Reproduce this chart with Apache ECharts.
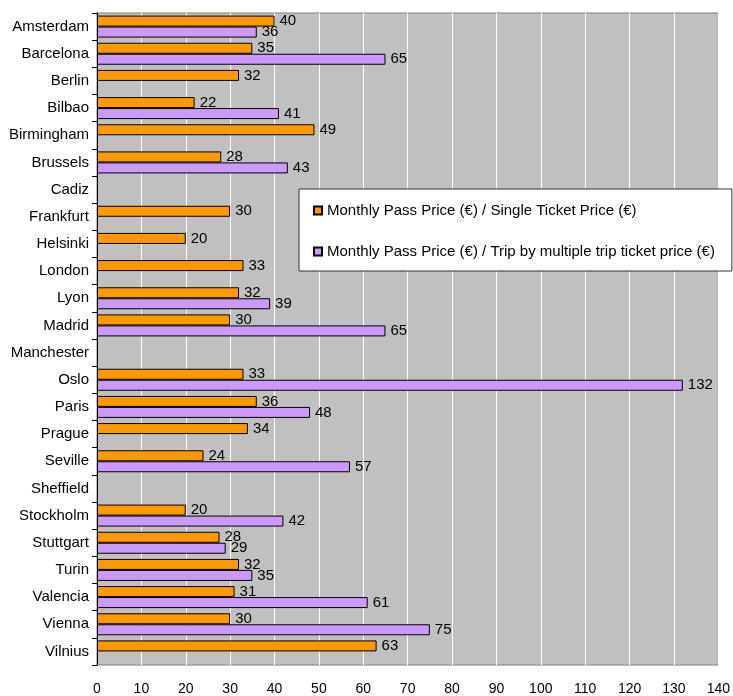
<!DOCTYPE html>
<html><head><meta charset="utf-8">
<script src="https://cdn.jsdelivr.net/npm/echarts@6/dist/echarts.min.js"></script>
<style>html,body{margin:0;padding:0;background:#fff}#c{width:733px;height:696px}</style>
</head><body><div id="c"></div>
<script>
const cities = ["Amsterdam","Barcelona","Berlin","Bilbao","Birmingham","Brussels","Cadiz","Frankfurt","Helsinki","London","Lyon","Madrid","Manchester","Oslo","Paris","Prague","Seville","Sheffield","Stockholm","Stuttgart","Turin","Valencia","Vienna","Vilnius"];
const singleTicket = [40,35,32,22,49,28,null,30,20,33,32,30,null,33,36,34,24,null,20,27.6,32,31,30,63];
const multiTrip = [36,65,null,41,null,43,null,null,null,null,39,65,null,132,48,null,57,null,42,29,35,61,75,null];
const xTicks = {min:0, max:140, interval:10};
const seriesNames = ["Monthly Pass Price (€) / Single Ticket Price (€)","Monthly Pass Price (€) / Trip by multiple trip ticket price (€)"];

const FONT = "Liberation Sans";
const chart = echarts.init(document.getElementById('c'));
const lbl = {show:true, position:'right', distance:5, color:'#000', fontFamily:FONT, fontSize:15,
  formatter: p => Math.round(p.value)};
chart.setOption({
  animation:false,
  textStyle:{fontFamily:FONT},
  grid:{left:97, right:14, top:13, bottom:30, show:true, backgroundColor:'#c0c0c0', borderColor:'#808080', borderWidth:1},
  legend:{
    orient:'vertical', left:299, top:189,
    padding:[14,17,12,14], itemGap:26, itemWidth:8, itemHeight:8,
    backgroundColor:'#fff', borderColor:'#333', borderWidth:1,
    textStyle:{fontFamily:FONT, fontSize:15, color:'#000', lineHeight:15},
    data:[{name:seriesNames[0], icon:'rect'},{name:seriesNames[1], icon:'rect'}]
  },
  xAxis:{type:'value', min:xTicks.min, max:xTicks.max, interval:xTicks.interval,
    axisLine:{show:false}, axisTick:{show:false},
    axisLabel:{margin:17, color:'#000', fontFamily:FONT, fontSize:14},
    splitLine:{show:true, lineStyle:{color:'#fff', width:1}}},
  yAxis:{type:'category', data:cities, inverse:true,
    axisLine:{show:true, lineStyle:{color:'#000', width:1}},
    axisTick:{show:true, length:5, lineStyle:{color:'#000'}},
    axisLabel:{margin:8, color:'#000', fontFamily:FONT, fontSize:15}},
  series:[
    {name:seriesNames[0], type:'bar', data:singleTicket, barWidth:11, barGap:'0%',
      itemStyle:{color:'#ff9900', borderColor:'#000', borderWidth:1}, label:lbl},
    {name:seriesNames[1], type:'bar', data:multiTrip, barWidth:11, barGap:'0%',
      itemStyle:{color:'#cc99ff', borderColor:'#000', borderWidth:1}, label:lbl}
  ]
});
</script></body></html>
